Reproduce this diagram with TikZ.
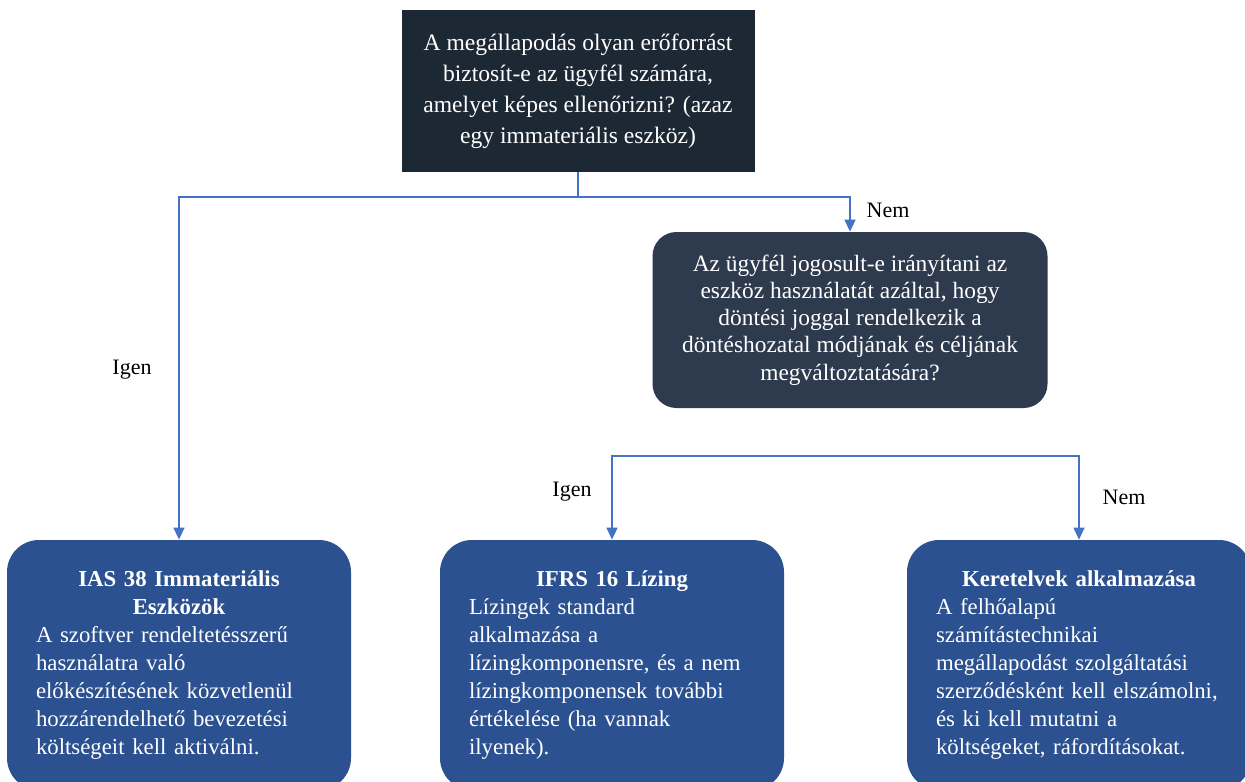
\documentclass[tikz,border=0pt]{standalone}
\usepackage{fontspec}
\setmainfont{Liberation Serif}
\usetikzlibrary{arrows.meta}

\definecolor{topnavy}{HTML}{1D2835}
\definecolor{midslate}{HTML}{2E3A4D}
\definecolor{outblue}{HTML}{2B5190}
\definecolor{linkblue}{HTML}{4472C4}

\begin{document}
\begin{tikzpicture}[x=0.5pt,y=-0.5pt]
\tikzstyle{question}=[fill=topnavy,text=white,align=center,font=\fontsize{11.8}{15.5}\selectfont]
\tikzstyle{outcome}=[fill=outblue,text=white,rounded corners=16pt,text width=143pt,
  inner xsep=14.5pt,minimum height=125pt,align=left,font=\fontsize{11.4}{14}\selectfont]
\tikzstyle{link}=[draw=linkblue,line width=0.75pt,-{Triangle[width=5.5pt,length=6pt]}]
\tikzstyle{answer}=[font=\fontsize{11}{13}\selectfont]

\clip (0,0) rectangle (1245,781);

%% Questions
\node [question,minimum width=176.5pt,minimum height=81pt] at (578,91) (top)
  {A megállapodás olyan erőforrást\\
   biztosít-e az ügyfél számára,\\
   amelyet képes ellenőrizni? (azaz\\
   egy immateriális eszköz)};

\node [question,fill=midslate,rounded corners=12pt,minimum width=197.5pt,
  minimum height=88pt,font=\fontsize{11.7}{13.6}\selectfont] at (850,320) (control)
  {Az ügyfél jogosult-e irányítani az\\
   eszköz használatát azáltal, hogy\\
   döntési joggal rendelkezik a\\
   döntéshozatal módjának és céljának\\
   megváltoztatására?};

%% Outcomes
\node [outcome] at (179,665) (ias)
  {{\centering\bfseries IAS 38 Immateriális\\Eszközök\par}
   A szoftver rendeltetésszerű\\
   használatra való\\
   előkészítésének közvetlenül\\
   hozzárendelhető bevezetési\\
   költségeit kell aktiválni.};

\node [outcome] at (612,665) (ifrs)
  {{\centering\bfseries IFRS 16 Lízing\par}
   Lízingek standard\\
   alkalmazása a\\
   lízingkomponensre, és a nem\\
   lízingkomponensek további\\
   értékelése (ha vannak\\
   ilyenek).};

\node [outcome] at (1079,665) (frame)
  {{\centering\bfseries Keretelvek alkalmazása\par}
   A felhőalapú\\
   számítástechnikai\\
   megállapodást szolgáltatási\\
   szerződésként kell elszámolni,\\
   és ki kell mutatni a\\
   költségeket, ráfordításokat.};

%% Connectors
\coordinate (split1) at (578,197);
\coordinate (split2) at (850,456);
\draw [draw=linkblue,line width=0.75pt] (top.south) -- (split1);
\draw [link] (split1) -| (ias.north);
\draw [link] (split1) -| (control.north);
\draw [link] (split2) -| (ifrs.north);
\draw [link] (split2) -| (frame.north);

%% Answers
\node [answer] at (888,210) (no1) {Nem};
\node [answer] at (132,370) (yes1) {Igen};
\node [answer] at (572,492) (yes2) {Igen};
\node [answer] at (1124,497) (no2) {Nem};

\end{tikzpicture}
\end{document}
